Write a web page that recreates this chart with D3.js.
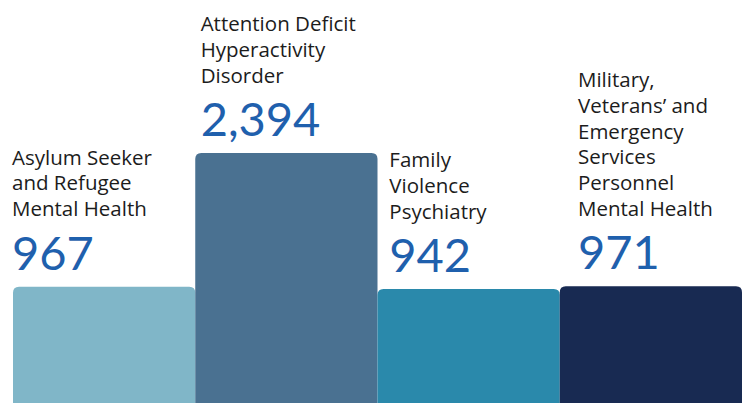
<!DOCTYPE html>
<html>
<head>
<meta charset="utf-8">
<script src="https://cdn.jsdelivr.net/npm/d3@7"></script>
<style>
  html, body { margin: 0; padding: 0; background: #fff; overflow: hidden; }
  svg { display: block; }
</style>
</head>
<body>
<svg id="chart" width="742" height="403"></svg>
<script>
const categories = [
  "Asylum Seeker and Refugee Mental Health",
  "Attention Deficit Hyperactivity Disorder",
  "Family Violence Psychiatry",
  "Military, Veterans’ and Emergency Services Personnel Mental Health"
];
const labelLines = [
  ["Asylum Seeker", "and Refugee", "Mental Health"],
  ["Attention Deficit", "Hyperactivity", "Disorder"],
  ["Family", "Violence", "Psychiatry"],
  ["Military,", "Veterans’ and", "Emergency", "Services", "Personnel", "Mental Health"]
];
const values = [967, 2394, 942, 971];
const barColors = ["#80b6c8", "#4a7191", "#2a89ab", "#182a52"];

const W = 742, H = 403;
const svg = d3.select("#chart");

const x = d3.scaleBand().domain(categories).range([13, 742]).padding(0);
const xText = d3.scalePoint().domain(categories).range([12, 578]);
const y = d3.scaleLinear().domain([-275, d3.max(values)]).range([H, 153]);

const r = 6;
function topRounded(x0, y0, w, h) {
  return `M${x0},${y0 + h}V${y0 + r}Q${x0},${y0} ${x0 + r},${y0}H${x0 + w - r}Q${x0 + w},${y0} ${x0 + w},${y0 + r}V${y0 + h}Z`;
}

const data = categories.map((c, i) => ({ c, v: values[i], lines: labelLines[i], color: barColors[i] }));

svg.selectAll("path.bar").data(data).join("path")
  .attr("class", "bar")
  .attr("fill", d => d.color)
  .attr("d", d => topRounded(x(d.c), y(d.v), x.bandwidth(), H + 20 - y(d.v)));

const fmt = d3.format(",");
const g = svg.selectAll("g.lab").data(data).join("g").attr("class", "lab");

g.append("text")
  .attr("x", d => xText(d.c))
  .attr("y", d => y(d.v) - 17)
  .attr("fill", "#1f60ad")
  .style("font-family", "Lato, 'Open Sans', sans-serif")
  .style("font-size", "47px")
  .text(d => fmt(d.v));

g.each(function(d) {
  const n = d.lines.length;
  const base = y(d.v) - 17 - 53.5;
  d3.select(this).selectAll("text.line").data(d.lines).join("text")
    .attr("class", "line")
    .attr("x", xText(d.c))
    .attr("y", (t, i) => base - (n - 1 - i) * 25.7)
    .attr("fill", "#1c1c1c")
    .style("font-family", "'Open Sans', Lato, sans-serif")
    .style("font-size", "20.5px")
    .text(t => t);
});
</script>
</body>
</html>
